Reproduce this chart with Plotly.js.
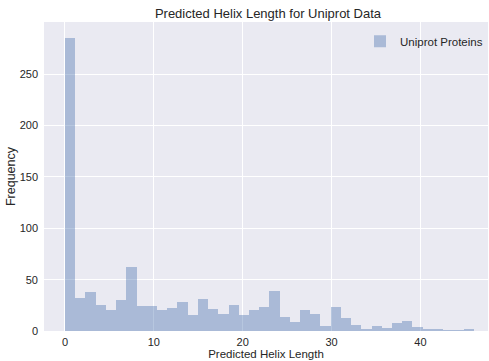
<!DOCTYPE html>
<html>
<head>
<meta charset="utf-8">
<script src="https://cdn.plot.ly/plotly-3.0.1.min.js"></script>
<style>html,body{margin:0;padding:0;background:#fff;}#chart{width:489px;height:361px;}</style>
</head>
<body>
<div id="chart"></div>
<script>
// Histogram counts (40 bins spanning 0..46)
const counts = [285, 32, 38, 25, 20, 30, 62, 24, 24, 20,
                22, 28, 16, 31, 21, 17, 25, 16, 20, 23,
                39, 14, 9, 20, 17, 5, 23, 13, 6, 2,
                5, 3, 8, 10, 4, 2, 2, 1, 1, 2];
const binStart = 0;
const binEnd = 46;
const seriesName = "Uniprot Proteins";
const xTicks = [0, 10, 20, 30, 40];
const yTicks = [0, 50, 100, 150, 200, 250];

const binWidth = (binEnd - binStart) / counts.length;
const centers = counts.map((_, i) => binStart + (i + 0.5) * binWidth);

const font = "Liberation Sans, Arial, sans-serif";
const trace = {
  type: "bar",
  x: centers,
  y: counts,
  width: counts.map(() => binWidth),
  name: seriesName,
  showlegend: true,
  marker: {color: "rgba(76,114,176,0.4)", line: {width: 0}},
  hoverinfo: "skip"
};

const layout = {
  width: 489, height: 361,
  margin: {l: 44, r: 1, t: 22, b: 30, pad: 0},
  paper_bgcolor: "#ffffff",
  plot_bgcolor: "#eaeaf2",
  font: {family: font, size: 11, color: "#262626"},
  bargap: 0,
  title: {text: "Predicted Helix Length for Uniprot Data", font: {family: font, size: 13, color: "#262626"},
          x: 0.548, xanchor: "center", y: 0.963, yanchor: "middle"},
  xaxis: {
    range: [-2.36, 47.6], tickvals: xTicks, ticktext: xTicks.map(String),
    showgrid: true, gridcolor: "#ffffff", gridwidth: 1, zeroline: false, showline: false,
    ticks: "", ticklabelstandoff: 3, tickfont: {size: 11, color: "#262626"},
    automargin: false,
    title: {text: "Predicted Helix Length", font: {size: 11.5, color: "#262626"}, standoff: 1}
  },
  yaxis: {
    range: [0, 300.9], tickvals: yTicks, ticktext: yTicks.map(String),
    showgrid: true, gridcolor: "#ffffff", gridwidth: 1, zeroline: false, showline: false,
    ticks: "", ticklabelstandoff: 5, tickfont: {size: 11, color: "#262626"},
    automargin: false,
    title: {text: "Frequency", font: {size: 12.5, color: "#262626"}, standoff: 1}
  },
  legend: {
    x: 1.0, xanchor: "right", y: 0.985, yanchor: "top",
    bgcolor: "rgba(0,0,0,0)", borderwidth: 0,
    font: {size: 11.5, color: "#262626"}
  }
};

Plotly.newPlot("chart", [trace], layout, {staticPlot: true, displayModeBar: false});
</script>
</body>
</html>
